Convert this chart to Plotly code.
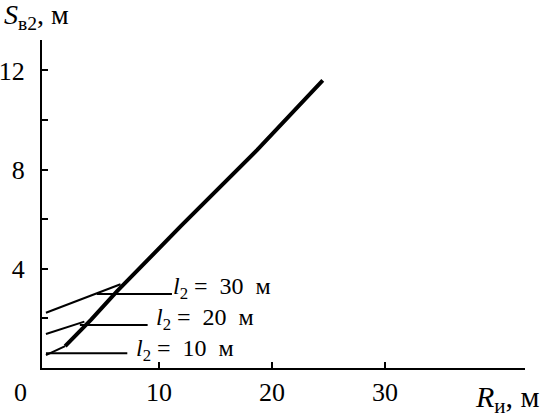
import plotly.graph_objects as go

# Thick main curve S_v2(R_i)
main_x = [1.7, 4.0, 6.3, 12.0, 18.7, 24.5]
main_y = [0.88, 1.95, 3.1, 5.75, 8.8, 11.6]

# Thin curves for l2 = 10, 20, 30 m (start at y-axis, end on main curve)
l10_x = [0.0, 1.7]
l10_y = [0.52, 0.88]
l20_x = [0.0, 3.4]
l20_y = [1.37, 1.87]
l30_x = [0.0, 6.6]
l30_y = [2.23, 3.38]

# Leader lines for labels
leader_y = [0.59, 1.73, 2.98]
leader_x0 = [0.0, 3.0, 4.5]
leader_x1 = [7.2, 9.0, 11.15]
label_x = [7.8, 9.6, 11.1]
label_y = [0.71, 1.96, 3.24]
label_text = ["10", "20", "30"]

y_tickvals = [2, 4, 6, 8, 10, 12]
y_ticktext = ["", "4", "", "8", "", "12"]
x_tickvals = [10, 20, 30]
x_ticktext = ["10", "20", "30"]

FONT = "Liberation Serif, Times New Roman, serif"

fig = go.Figure()
for xs, ys in [(l10_x, l10_y), (l20_x, l20_y), (l30_x, l30_y)]:
    fig.add_trace(go.Scatter(x=xs, y=ys, mode="lines",
                             line=dict(color="black", width=2), showlegend=False))
for y, x0, x1 in zip(leader_y, leader_x0, leader_x1):
    fig.add_trace(go.Scatter(x=[x0, x1], y=[y, y], mode="lines",
                             line=dict(color="black", width=2), showlegend=False))
fig.add_trace(go.Scatter(x=main_x, y=main_y, mode="lines",
                         line=dict(color="black", width=4), showlegend=False))

for x, y, t in zip(label_x, label_y, label_text):
    fig.add_annotation(x=x, y=y, xref="x", yref="y", xanchor="left", yanchor="middle",
                       text=f"<i>l</i><sub>2</sub>&nbsp;=&nbsp;&nbsp;{t}&nbsp;&nbsp;м", showarrow=False,
                       font=dict(family=FONT, size=24, color="black"))

fig.add_annotation(x=-0.082, y=1.13, xref="paper", yref="paper", xanchor="left", yanchor="top",
                   text="<i>S</i><sub>в2</sub>, м", showarrow=False,
                   font=dict(family=FONT, size=28, color="black"))
fig.add_annotation(x=1.035, y=-0.03, xref="paper", yref="paper", xanchor="right", yanchor="top",
                   text="<i>R</i><sub>и</sub>, м", showarrow=False,
                   font=dict(family=FONT, size=30, color="black"))
fig.add_annotation(x=-0.0455, y=-0.076, xref="paper", yref="paper", xanchor="center", yanchor="middle",
                   text="0", showarrow=False,
                   font=dict(family=FONT, size=26, color="black"))

fig.update_layout(
    width=545, height=417,
    margin=dict(l=42, r=20, t=40, b=49, autoexpand=False),
    paper_bgcolor="white", plot_bgcolor="white",
    font=dict(family=FONT, size=26, color="black"),
)
fig.update_xaxes(range=[-0.35, 42.4], showline=True, linecolor="black", linewidth=2,
                 ticks="inside", ticklen=6, tickwidth=2, tickcolor="black",
                 tickvals=x_tickvals, ticktext=x_ticktext, showgrid=False, zeroline=False,
                 ticklabelstandoff=0, automargin=False)
fig.update_yaxes(range=[0, 13.23], showline=True, linecolor="black", linewidth=2,
                 ticks="inside", ticklen=6, tickwidth=2, tickcolor="black",
                 tickvals=y_tickvals, ticktext=y_ticktext, showgrid=False, zeroline=False,
                 ticklabelstandoff=10, automargin=False)

fig.write_html("out.html", config={"displayModeBar": False},
               post_script="document.body.style.margin='0';")
